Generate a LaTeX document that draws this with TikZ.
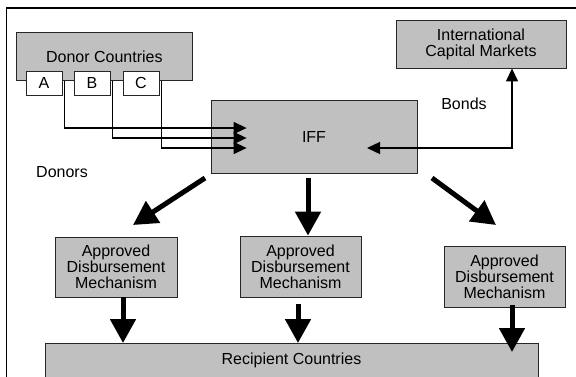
\documentclass[tikz,border=0pt]{standalone}
\usepackage{fontspec}
\setmainfont{Liberation Sans}
\usetikzlibrary{arrows.meta,calc}
\definecolor{boxgray}{HTML}{C0C0C0}
\tikzset{
  graybox/.style={draw=black!85, line width=0.8pt, fill=boxgray, inner sep=0pt, align=center,
    font=\fontsize{16}{16}\selectfont},
  letterbox/.style={draw=black!85, line width=0.8pt, fill=white, inner sep=0pt,
    minimum width=36pt, minimum height=24pt, font=\fontsize{16}{16}\selectfont},
  plainlabel/.style={inner sep=0pt, font=\fontsize{16}{16}\selectfont},
  thinarrow/.style={line width=1.3pt, -{Triangle[length=13pt,width=12pt]}},
  boththin/.style={line width=1.3pt, {Triangle[length=13pt,width=12pt]}-{Triangle[length=13pt,width=12pt]}},
  thickarrow/.style={line width=5pt, -{Triangle[length=24pt,width=25pt]}}
}
\begin{document}
\begin{tikzpicture}[x=1pt,y=-1pt]
\useasboundingbox (0,0) rectangle (576,376);
\clip (0,0) rectangle (576,376);
% frame
\draw[line width=1.2pt] (6.5,380) -- (6.5,8) -- (580,8);
% donor countries
\node[graybox, minimum width=176pt, minimum height=48pt, anchor=north west] (donor) at (16,32) {Donor Countries};
\node[letterbox] (A) at (44,83) {A};
\node[letterbox] (B) at (92,83) {B};
\node[letterbox] (C) at (141,83) {C};
% IFF
\node[graybox, minimum width=206pt, minimum height=73pt] (iff) at (314,136.5) {IFF};
% ICM
\node[graybox, minimum width=170pt, minimum height=48pt] (icm) at (481,44) {International\\Capital Markets};
% labels
\node[plainlabel] (donors) at (62,172) {Donors};
\node[plainlabel] (bonds) at (464,104) {Bonds};
% disbursement boxes
\node[graybox, minimum width=122pt, minimum height=60pt] (d1) at (116,267) {Approved\\Disbursement\\Mechanism};
\node[graybox, minimum width=121pt, minimum height=61pt] (d2) at (300.5,266.5) {Approved\\Disbursement\\Mechanism};
\node[graybox, minimum width=121pt, minimum height=61pt] (d3) at (504.5,276.5) {Approved\\Disbursement\\Mechanism};
% recipient
\node[graybox, minimum width=493pt, minimum height=34pt, anchor=north] (rec) at (291.5,343) {Recipient Countries};
% donor arrows
\draw[thinarrow] ([xshift=2pt]A.east |- donor.south) |- ($(iff.west)+(36,-8.5)$);
\draw[thinarrow] ([xshift=2pt]B.east |- donor.south) |- ($(iff.west)+(36,1.5)$);
\draw[thinarrow] ([xshift=2pt]C.east |- donor.south) |- ($(iff.west)+(36,11.5)$);
% bonds
\draw[boththin] ($(iff.center)+(53,11.5)$) -| ([xshift=31pt]icm.south);
% thick arrows from IFF
\coordinate (t1) at (205,178);
\coordinate (t2) at (432,178);
\draw[thickarrow] (t1) -- (133,225) coordinate (h1);
\draw[thickarrow] (iff.south -| 308,0) ++(0,5) -- (d2.north -| 308,0);
\draw[thickarrow] (t2) -- (496,225) coordinate (h2);
% down arrows
\draw[thickarrow] (d1.south -| 123,0) -- (rec.north -| 123,0);
\draw[thickarrow] ([yshift=-7pt]d2.south -| 298,0) -- (rec.north -| 298,0);
\draw[thickarrow] ([yshift=2pt]d3.south -| 512,0) -- ([yshift=-9pt]rec.north -| 512,0);
\end{tikzpicture}
\end{document}
